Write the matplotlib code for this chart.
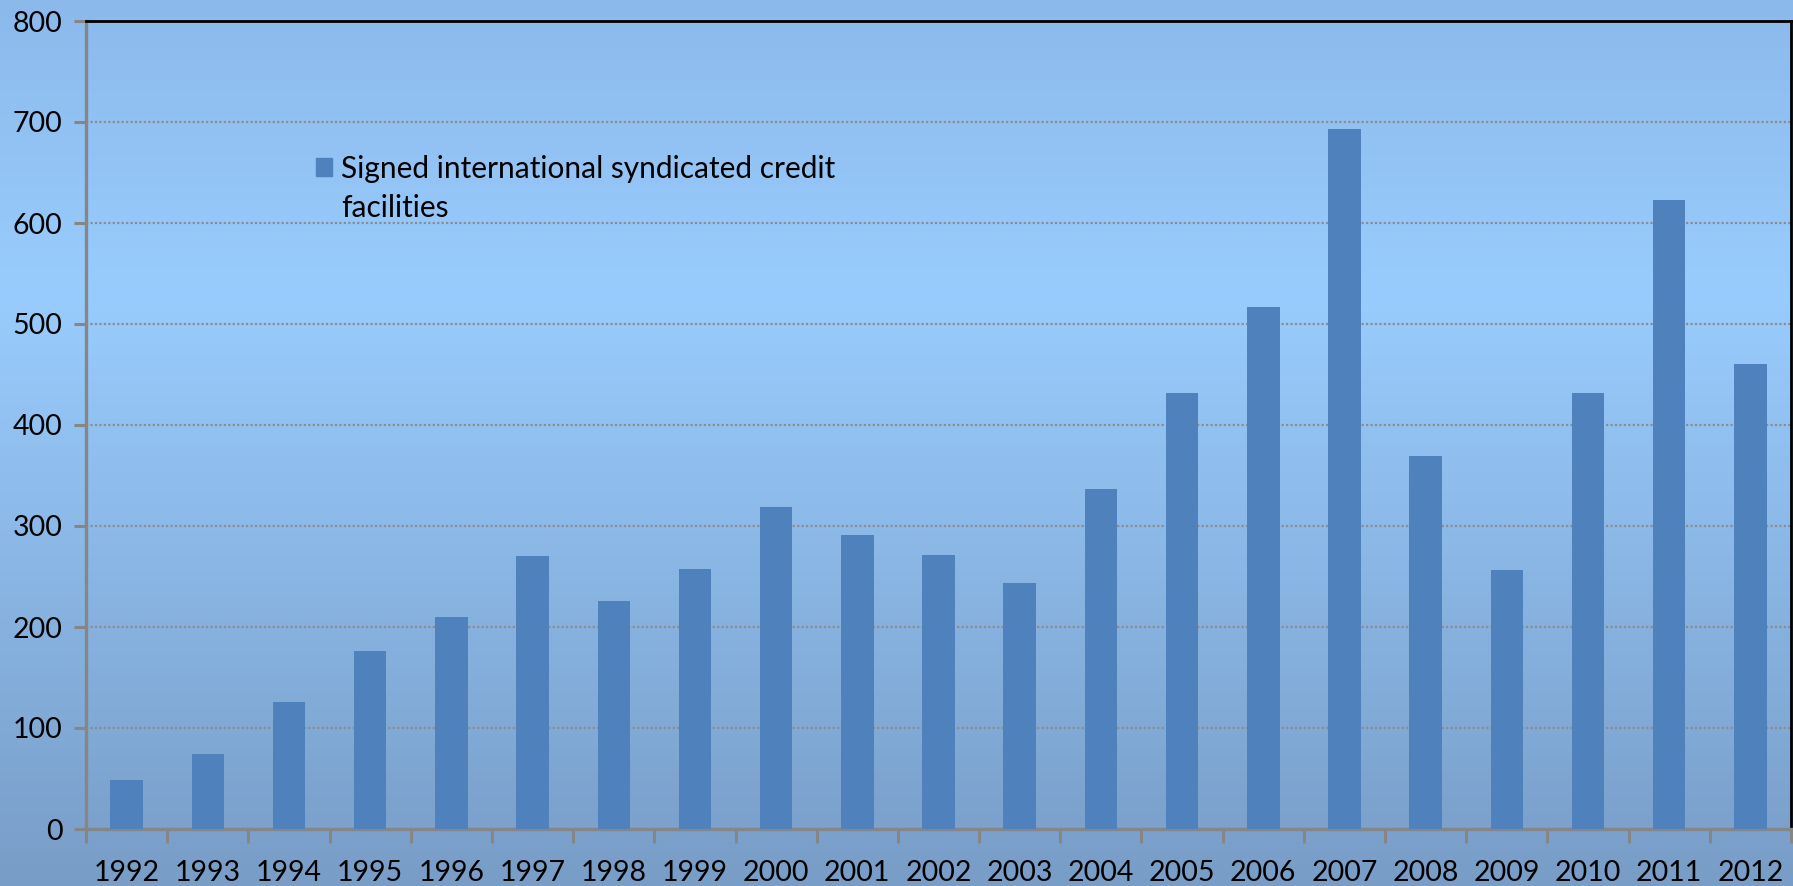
import numpy as np
import matplotlib.pyplot as plt
from matplotlib.colors import LinearSegmentedColormap
from matplotlib.patches import Patch

years = [str(y) for y in range(1992, 2013)]
facilities = [49, 74, 126, 176, 210, 270, 226, 257, 319, 291, 271,
              244, 337, 432, 517, 693, 369, 256, 432, 623, 460]
legend_label = "Signed international syndicated credit"
legend_label_2 = "facilities"

bar_color = "#4F81BD"
grid_gray = "#8C8C8C"

plt.rcParams["font.family"] = ["Lato", "DejaVu Sans"]

fig = plt.figure(figsize=(17.93, 8.86), dpi=100)

# backdrop: vertical blue gradient over the whole figure
bg = fig.add_axes([0, 0, 1, 1], zorder=-10)
cmap = LinearSegmentedColormap.from_list(
    "bg", [(0.0, "#8CB9EB"), (0.33, "#99CCFE"), (1.0, "#789DC7")])
bg.imshow(np.linspace(0, 1, 256).reshape(-1, 1), aspect="auto", cmap=cmap,
          extent=[0, 1, 0, 1], origin="upper")
bg.set_axis_off()

ax = fig.add_axes([86 / 1793, 1 - 829 / 886, (1791 - 86) / 1793, (829 - 21) / 886])
ax.patch.set_alpha(0)

x = np.arange(len(years))
ax.bar(x, facilities, width=0.4, color=bar_color, zorder=3)

ax.set_xlim(-0.5, len(years) - 0.5)
ax.set_ylim(0, 800)
ax.set_yticks(np.arange(0, 801, 100))
ax.yaxis.grid(True, color=grid_gray, linestyle=(0, (1, 1)), linewidth=1.6, zorder=1)

# category boundaries get the tick marks, labels sit at the centres
ax.set_xticks(np.arange(len(years) + 1) - 0.5)
ax.set_xticklabels([])
ax.set_xticks(x, minor=True)
ax.set_xticklabels(years, minor=True)
ax.tick_params(axis="x", which="major", length=10, width=2.2, color="#868686")
ax.tick_params(axis="x", which="minor", length=0, pad=22, labelsize=20.5)
ax.tick_params(axis="y", length=9, width=2.2, color="#868686", pad=8, labelsize=20.5)

for side in ("left", "bottom"):
    ax.spines[side].set_color("#868686")
    ax.spines[side].set_linewidth(2.4)
for side in ("top", "right"):
    ax.spines[side].set_color("black")
    ax.spines[side].set_linewidth(2.0)

leg = ax.legend(handles=[Patch(color=bar_color, label=legend_label)],
                loc="upper left", bbox_to_anchor=(230 / 1705, 1 - 134 / 808),
                frameon=False, fontsize=21.5, handlelength=0.55, handleheight=0.55,
                handletextpad=0.3, borderpad=0, borderaxespad=0)
fig.canvas.draw()
tb = leg.get_texts()[0].get_window_extent()
fig.text(tb.x0 / fig.bbox.width, (tb.y0 - 11) / fig.bbox.height, legend_label_2,
         fontsize=21.5, ha="left", va="top")

fig.savefig("out.png", dpi=100)
